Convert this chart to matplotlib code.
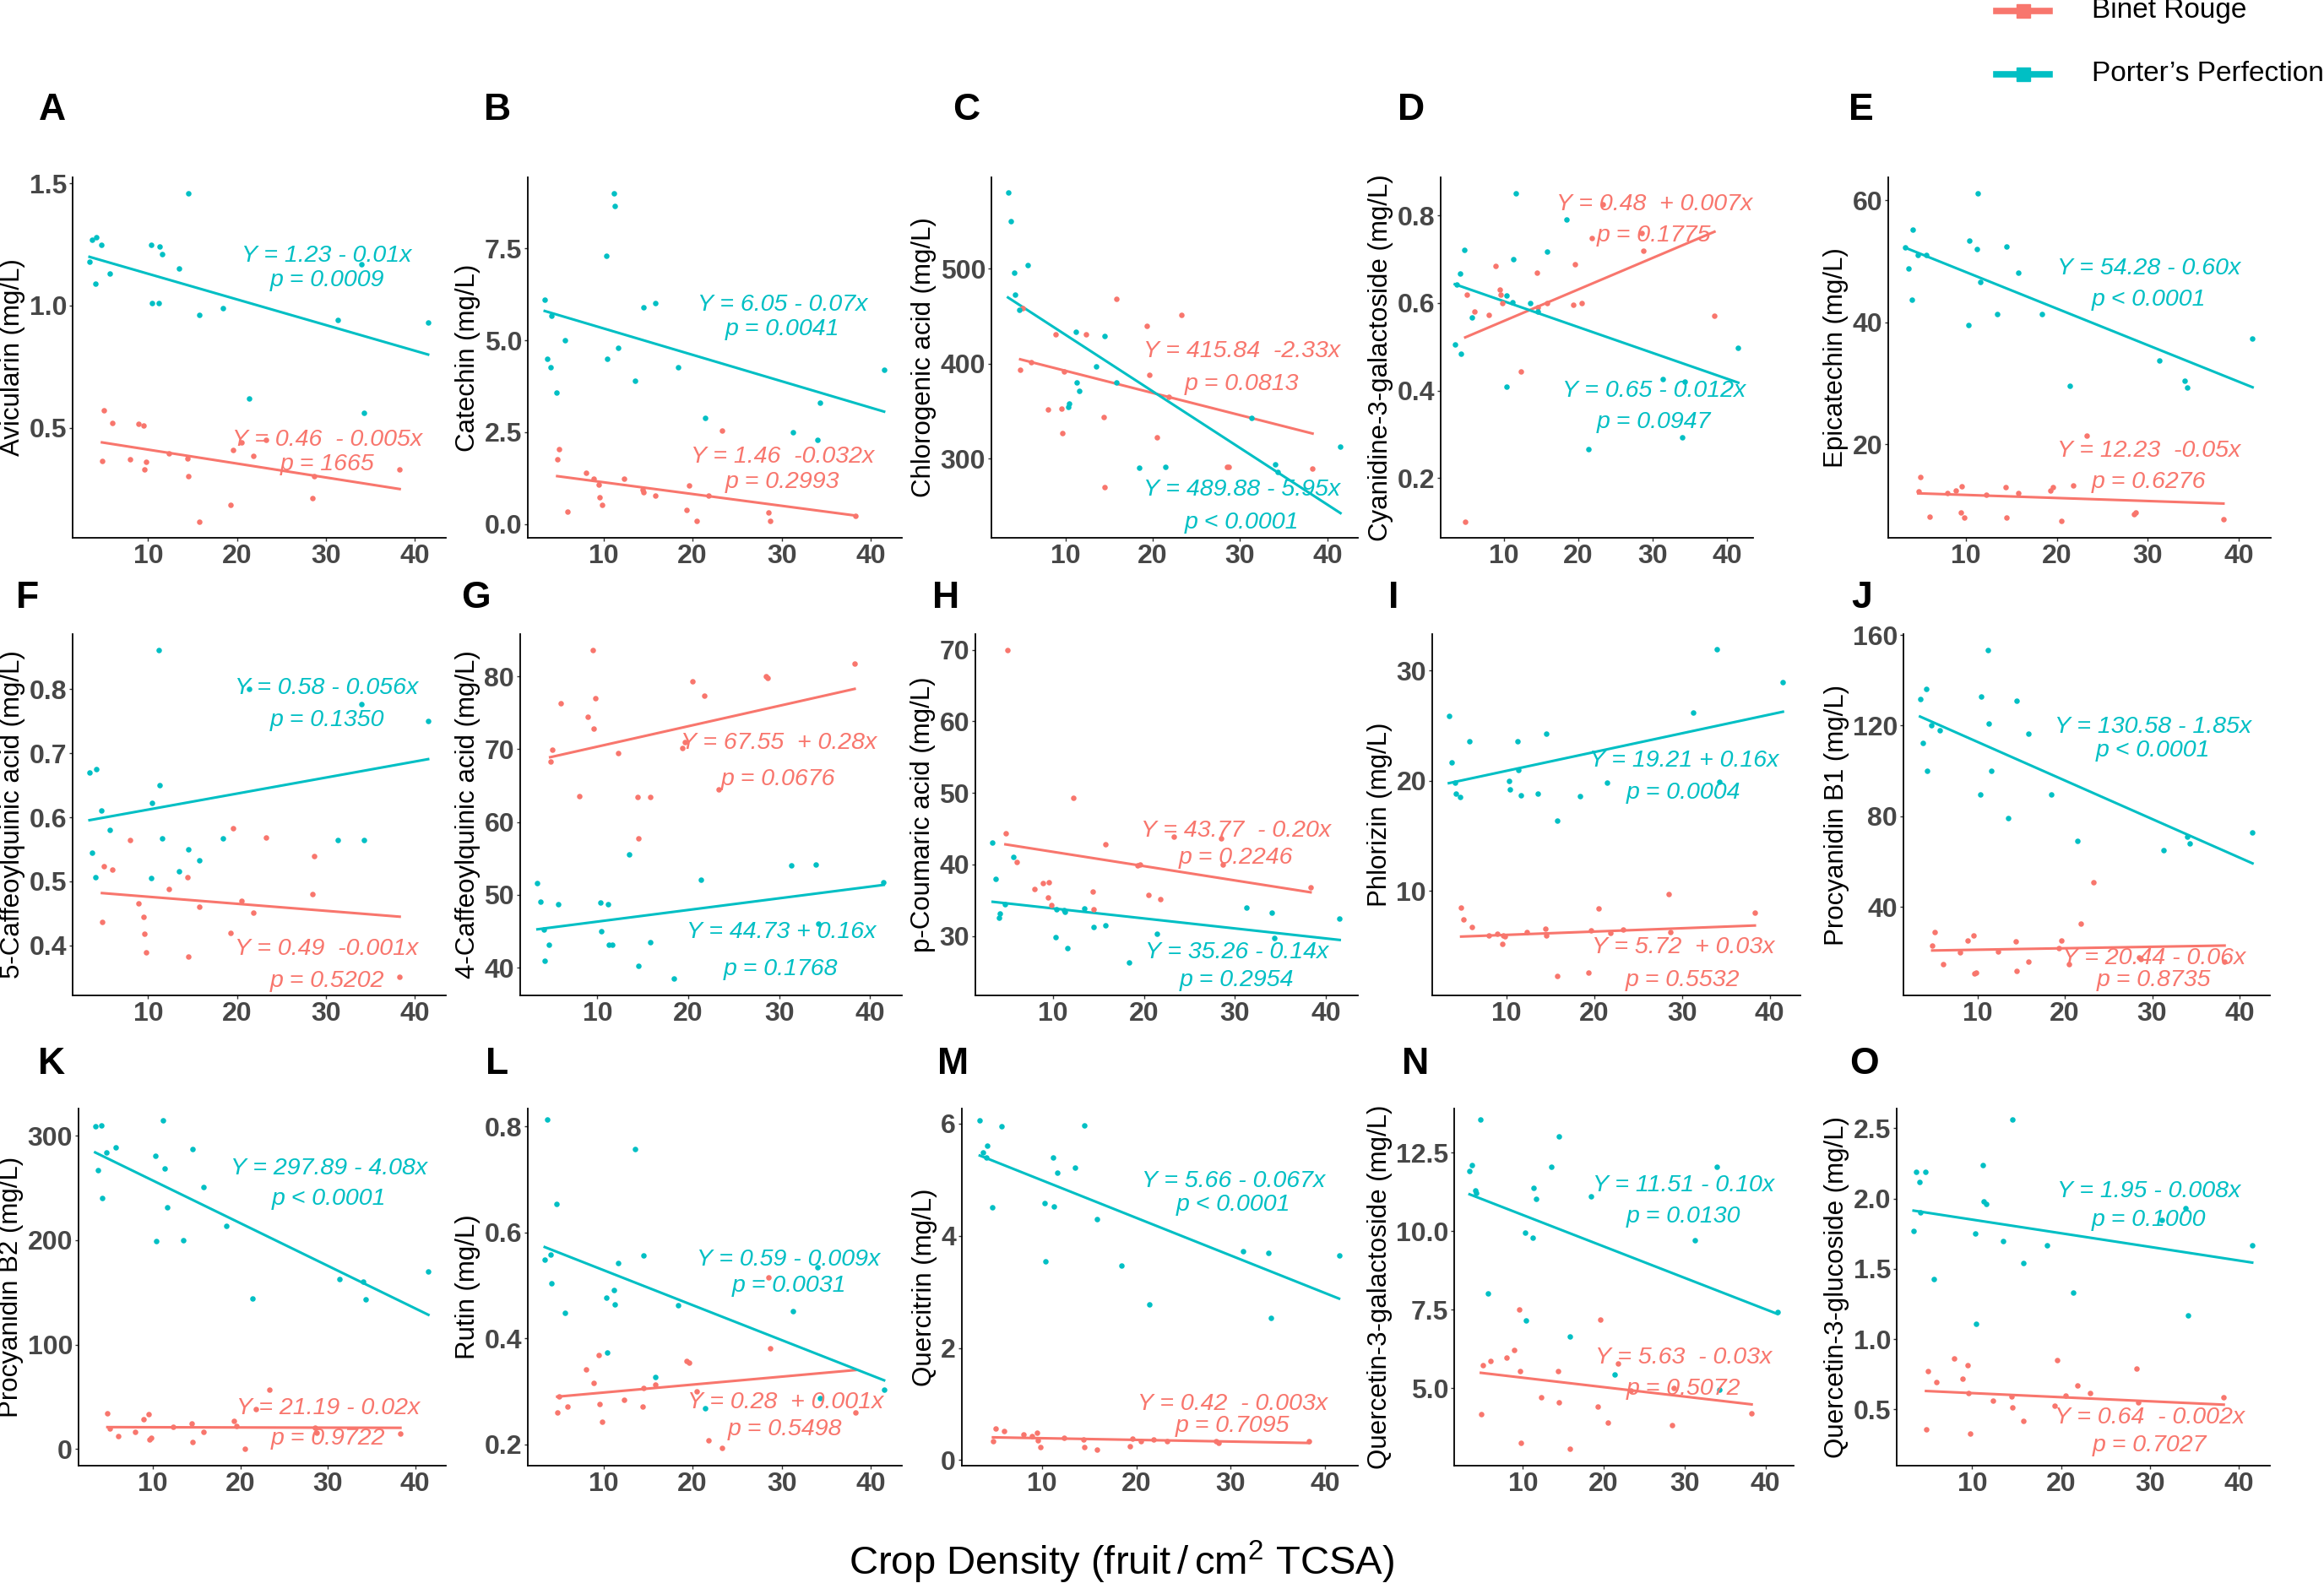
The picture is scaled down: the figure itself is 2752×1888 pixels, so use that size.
import numpy as np
import matplotlib
matplotlib.use("Agg")
import matplotlib.pyplot as plt
from matplotlib.lines import Line2D

plt.rcParams["font.family"] = ["Liberation Sans", "DejaVu Sans"]
plt.rcParams["mathtext.fontset"] = "custom"
plt.rcParams["mathtext.rm"] = "Liberation Sans"

RED = "#F8766D"
TEAL = "#00BFC4"
TICK_GREY = "#474747"

# crop density per tree
x_binet = [4.8, 5.05, 6.0, 8.0, 8.9, 9.5, 9.6, 9.8, 12.3, 14.4, 14.5, 15.8, 19.3, 19.6, 20.5, 21.8, 23.3, 28.5, 28.7, 38.3]
x_porter = [3.4, 3.7, 4.1, 4.2, 4.7, 5.7, 10.3, 10.4, 11.2, 11.3, 11.6, 13.5, 14.5, 15.8, 18.4, 21.4, 31.3, 34.0, 34.3, 41.5]

# compound concentrations (mg/L), Binet Rouge (br) / Porter's Perfection (pp)
avic_br = [0.365, 0.57, 0.52, 0.37, 0.515, 0.51, 0.33, 0.36, 0.395, 0.375, 0.30, 0.115, 0.185, 0.41, 0.44, 0.385, 0.45, 0.21, 0.30, 0.33]
avic_pp = [1.18, 1.27, 1.09, 1.28, 1.25, 1.13, 1.25, 1.01, 1.01, 1.24, 1.21, 1.15, 1.46, 0.96, 0.99, 0.62, 0.94, 1.17, 0.56, 0.93]
cat_br = [1.76, 2.05, 0.35, 1.4, 1.23, 1.07, 0.74, 0.53, 1.23, 0.94, 0.86, 0.78, 0.39, 1.05, 0.08, 0.78, 2.54, 0.33, 0.08, 0.23]
cat_pp = [6.1, 4.5, 4.26, 5.66, 3.57, 5.0, 7.3, 4.5, 9.0, 8.65, 4.8, 3.9, 5.9, 6.0, 4.26, 2.9, 2.5, 2.3, 3.3, 4.2]
chl_br = [394, 458, 402, 352, 431, 353, 327, 392, 431, 344, 270, 468, 440, 388, 323, 365, 451, 292, 292, 290]
chl_pp = [580, 550, 496, 473, 457, 504, 355, 358, 434, 380, 371, 397, 429, 380, 291, 292, 343, 294, 286, 313]
cya_br = [0.10, 0.62, 0.58, 0.573, 0.684, 0.63, 0.62, 0.60, 0.444, 0.67, 0.59, 0.60, 0.595, 0.689, 0.60, 0.749, 0.826, 0.76, 0.72, 0.571]
cya_pp = [0.505, 0.643, 0.668, 0.484, 0.721, 0.567, 0.409, 0.617, 0.601, 0.70, 0.851, 0.60, 0.58, 0.718, 0.79, 0.266, 0.426, 0.293, 0.42, 0.497]
epi_br = [12.3, 14.7, 8.1, 12.0, 12.5, 8.8, 13.2, 8.0, 11.8, 13.0, 8.0, 12.1, 12.5, 13.0, 7.4, 13.3, 21.4, 8.6, 8.8, 7.7]
epi_pp = [52.3, 48.8, 43.7, 55.2, 51.1, 51.1, 39.6, 53.4, 52.1, 61.2, 46.6, 41.4, 52.5, 48.1, 41.4, 29.6, 33.8, 30.4, 29.3, 37.4]
caf5_br = [0.436, 0.523, 0.518, 0.565, 0.465, 0.445, 0.418, 0.389, 0.488, 0.507, 0.382, 0.46, 0.42, 0.583, 0.47, 0.451, 0.568, 0.48, 0.54, 0.351]
caf5_pp = [0.67, 0.545, 0.507, 0.675, 0.611, 0.58, 0.505, 0.623, 0.861, 0.65, 0.567, 0.516, 0.55, 0.533, 0.567, 0.80, 0.565, 0.777, 0.565, 0.75]
caf4_br = [68.3, 69.9, 76.3, 63.6, 74.4, 83.6, 72.8, 77.0, 69.5, 63.4, 57.8, 63.4, 70.2, 71.0, 79.3, 77.3, 64.5, 80.0, 79.8, 81.7]
caf4_pp = [51.6, 49.1, 45.2, 41.0, 43.2, 48.7, 48.9, 45.0, 48.7, 43.1, 43.1, 55.6, 40.2, 43.5, 38.5, 52.1, 54.0, 54.2, 46.0, 51.7]
cou_br = [44.3, 70.0, 40.3, 36.6, 37.4, 35.4, 37.5, 34.3, 49.3, 36.2, 33.7, 42.8, 39.9, 40.0, 35.7, 35.1, 43.9, 43.7, 40.0, 36.8]
cou_pp = [43.0, 38.0, 32.6, 33.2, 34.5, 41.0, 29.9, 33.7, 33.6, 33.4, 28.3, 33.8, 31.3, 31.5, 26.3, 30.3, 34.0, 33.3, 29.7, 32.4]
phl_br = [8.5, 7.4, 6.7, 6.0, 6.1, 5.2, 6.0, 5.9, 6.3, 6.6, 6.0, 2.3, 2.6, 6.4, 8.4, 6.2, 6.5, 9.7, 6.3, 8.0]
phl_pp = [25.9, 21.7, 19.8, 18.8, 18.5, 23.6, 20.0, 19.2, 23.6, 21.0, 18.7, 18.8, 24.3, 16.4, 18.6, 19.8, 26.2, 31.9, 19.9, 28.9]
pb1_br = [23.0, 29.1, 14.7, 20.1, 25.2, 27.3, 10.6, 11.2, 20.5, 25.0, 11.9, 16.0, 22.0, 25.3, 14.7, 32.7, 50.9, 17.9, 17.2, 16.0]
pb1_pp = [131.8, 112.2, 136.3, 100.1, 120.2, 117.8, 89.8, 133.0, 153.3, 121.0, 100.0, 79.3, 130.9, 116.4, 89.5, 69.2, 65.0, 71.2, 68.2, 72.8]
pb2_br = [34.0, 20.0, 12.4, 16.5, 28.9, 33.3, 9.3, 10.5, 21.6, 24.5, 7.2, 16.7, 26.8, 22.0, 0.0, 38.0, 57.0, 20.3, 16.0, 14.6]
pb2_pp = [308.7, 266.8, 309.5, 240.0, 283.6, 289.0, 280.4, 199.0, 315.0, 268.3, 231.4, 199.6, 287.0, 251.0, 214.0, 144.2, 163.0, 160.0, 143.7, 170.2]
rut_br = [0.26, 0.29, 0.271, 0.342, 0.316, 0.368, 0.276, 0.243, 0.285, 0.271, 0.307, 0.313, 0.358, 0.355, 0.30, 0.208, 0.193, 0.516, 0.381, 0.261]
rut_pp = [0.548, 0.814, 0.559, 0.504, 0.654, 0.449, 0.477, 0.374, 0.491, 0.464, 0.542, 0.757, 0.557, 0.328, 0.463, 0.268, 0.451, 0.535, 0.288, 0.303]
qci_br = [0.33, 0.57, 0.51, 0.46, 0.42, 0.48, 0.35, 0.23, 0.40, 0.36, 0.23, 0.19, 0.25, 0.38, 0.34, 0.36, 0.34, 0.33, 0.31, 0.34]
qci_pp = [6.06, 5.49, 5.40, 5.60, 4.51, 5.95, 4.59, 3.55, 5.39, 4.52, 5.12, 5.21, 5.97, 4.30, 3.47, 2.78, 3.73, 3.70, 2.54, 3.65]
qga_br = [4.18, 5.73, 5.87, 5.97, 6.2, 7.5, 5.53, 3.25, 4.72, 5.53, 4.55, 3.08, 4.4, 7.19, 3.89, 5.78, 4.93, 3.83, 5.0, 4.19]
qga_pp = [11.9, 12.1, 11.3, 11.2, 13.55, 8.0, 9.95, 7.16, 9.78, 11.37, 11.03, 12.04, 13.0, 6.63, 11.1, 5.43, 9.7, 12.04, 4.95, 7.43]
qgl_br = [0.357, 0.775, 0.695, 0.86, 0.72, 0.816, 0.618, 0.33, 0.56, 0.593, 0.513, 0.417, 0.528, 0.85, 0.60, 0.668, 0.618, 0.792, 0.55, 0.588]
qgl_pp = [1.77, 2.19, 2.12, 1.90, 2.19, 1.43, 1.75, 1.11, 2.24, 1.98, 1.96, 1.70, 2.56, 1.54, 1.67, 1.33, 1.85, 1.93, 1.17, 1.67]

# fitted lines as drawn (intercept, slope)
fit_br = [(0.467, -0.0057), (1.46, -0.032), (415.84, -2.33), (0.487, 0.0072), (12.23, -0.05),
          (0.487, -0.0011), (67.55, 0.28), (43.77, -0.20), (5.72, 0.03), (20.5, 0.065),
          (21.19, -0.02), (0.283, 0.0015), (0.42, -0.003), (5.63, -0.03), (0.645, -0.0029)]
fit_pp = [(1.235, -0.0105), (6.04, -0.0718), (489.88, -5.95), (0.663, -0.0059), (54.28, -0.60),
          (0.587, 0.0025), (44.73, 0.16), (35.26, -0.14), (19.2, 0.17), (129.8, -1.70),
          (297.89, -4.08), (0.595, -0.0066), (5.66, -0.067), (11.51, -0.10), (1.947, -0.0097)]

letters = list("ABCDEFGHIJKLMNO")
ylabels = ["Avicularin (mg/L)", "Catechin (mg/L)", "Chlorogenic acid (mg/L)",
           "Cyanidine-3-galactoside (mg/L)", "Epicatechin (mg/L)",
           "5-Caffeoylquinic acid (mg/L)", "4-Caffeoylquinic acid (mg/L)",
           "p-Coumaric acid (mg/L)", "Phlorizin (mg/L)", "Procyanidin B1 (mg/L)",
           "Procyanidin B2 (mg/L)", "Rutin (mg/L)", "Quercitrin (mg/L)",
           "Quercetin-3-galactoside (mg/L)", "Quercetin-3-glucoside (mg/L)"]
ytick_labels = [["0.5", "1.0", "1.5"], ["0.0", "2.5", "5.0", "7.5"], ["300", "400", "500"],
                ["0.2", "0.4", "0.6", "0.8"], ["20", "40", "60"],
                ["0.4", "0.5", "0.6", "0.7", "0.8"], ["40", "50", "60", "70", "80"],
                ["30", "40", "50", "60", "70"], ["10", "20", "30"], ["40", "80", "120", "160"],
                ["0", "100", "200", "300"], ["0.2", "0.4", "0.6", "0.8"], ["0", "2", "4", "6"],
                ["5.0", "7.5", "10.0", "12.5"], ["0.5", "1.0", "1.5", "2.0", "2.5"]]
eq_br = [("Y = 0.46  - 0.005x", "p = 1665"), ("Y = 1.46  -0.032x", "p = 0.2993"),
         ("Y = 415.84  -2.33x", "p = 0.0813"), ("Y = 0.48  + 0.007x", "p = 0.1775"),
         ("Y = 12.23  -0.05x", "p = 0.6276"), ("Y = 0.49  -0.001x", "p = 0.5202"),
         ("Y = 67.55  + 0.28x", "p = 0.0676"), ("Y = 43.77  - 0.20x", "p = 0.2246"),
         ("Y = 5.72  + 0.03x", "p = 0.5532"), ("Y = 20.44 - 0.06x", "p = 0.8735"),
         ("Y = 21.19 - 0.02x", "p = 0.9722"), ("Y = 0.28  + 0.001x", "p = 0.5498"),
         ("Y = 0.42  - 0.003x", "p = 0.7095"), ("Y = 5.63  - 0.03x", "p = 0.5072"),
         ("Y = 0.64  - 0.002x", "p = 0.7027")]
eq_pp = [("Y = 1.23 - 0.01x", "p = 0.0009"), ("Y = 6.05 - 0.07x", "p = 0.0041"),
         ("Y = 489.88 - 5.95x", "p < 0.0001"), ("Y = 0.65 - 0.012x", "p = 0.0947"),
         ("Y = 54.28 - 0.60x", "p < 0.0001"), ("Y = 0.58 - 0.056x", "p = 0.1350"),
         ("Y = 44.73 + 0.16x", "p = 0.1768"), ("Y = 35.26 - 0.14x", "p = 0.2954"),
         ("Y = 19.21 + 0.16x", "p = 0.0004"), ("Y = 130.58 - 1.85x", "p < 0.0001"),
         ("Y = 297.89 - 4.08x", "p < 0.0001"), ("Y = 0.59 - 0.009x", "p = 0.0031"),
         ("Y = 5.66 - 0.067x", "p < 0.0001"), ("Y = 11.51 - 0.10x", "p = 0.0130"),
         ("Y = 1.95 - 0.008x", "p = 0.1000")]

values_br = [avic_br, cat_br, chl_br, cya_br, epi_br, caf5_br, caf4_br, cou_br,
             phl_br, pb1_br, pb2_br, rut_br, qci_br, qga_br, qgl_br]
values_pp = [avic_pp, cat_pp, chl_pp, cya_pp, epi_pp, caf5_pp, caf4_pp, cou_pp,
             phl_pp, pb1_pp, pb2_pp, rut_pp, qci_pp, qga_pp, qgl_pp]

# ---- layout (pixels of the 2752x1888 canvas) ----
W, H = 2752, 1888
rows_tb = [(210, 637), (751, 1179), (1313, 1736)]
cols_lr = [[(86, 528), (625, 1068), (1174, 1608), (1706, 2076), (2236, 2689)],
           [(86, 528), (616, 1068), (1155, 1608), (1696, 2132), (2254, 2688)],
           [(93, 528), (625, 1068), (1139, 1608), (1722, 2124), (2246, 2688)]]
letter_xy = [(62, 130), (589, 130), (1144, 130), (1671, 130), (2204, 130),
             (33, 708), (563, 708), (1120, 708), (1650, 708), (2205, 708),
             (61, 1261), (589, 1261), (1129, 1261), (1676, 1261), (2207, 1261)]
ylims = [(0.049, 1.525), (-0.37, 9.43), (217, 596), (0.064, 0.887), (4.7, 63.8),
         (0.322, 0.886), (36.2, 85.8), (21.7, 72.2), (0.53, 33.3), (1.0, 160.4),
         (-15.8, 326), (0.16, 0.834), (-0.10, 6.27), (2.53, 13.9), (0.10, 2.64)]
# annotation anchors in data units: (x, y of equation, y of p)
pos_br = [(30.2, 0.451, 0.349), (30.1, 1.83, 1.15), (30.2, 413.4, 378.9), (30.2, 0.826, 0.754),
          (30.1, 19.0, 13.9), (30.1, 0.395, 0.345), (29.9, 70.8, 65.9), (30.1, 44.7, 40.9),
          (30.1, 4.9, 1.9), (30.2, 17.5, 7.6), (30.0, 39, 10), (30.4, 0.279, 0.228),
          (30.2, 1.0, 0.61), (29.9, 5.97, 4.98), (30.0, 0.443, 0.245)]
pos_pp = [(30.1, 1.204, 1.105), (30.1, 5.96, 5.29), (30.2, 268, 232.7), (30.2, 0.399, 0.328),
          (30.1, 48.9, 43.7), (30.1, 0.802, 0.752), (30.2, 44.9, 39.8), (30.2, 27.7, 23.8),
          (30.2, 21.8, 18.9), (30.1, 119.3, 109), (30.1, 268.3, 239.4), (30.8, 0.548, 0.499),
          (30.3, 4.98, 4.55), (29.9, 11.46, 10.45), (29.9, 2.05, 1.85)]


def box(l, r, t, b):
    return [l / W, 1 - b / H, (r - l) / W, (b - t) / H]


def draw_series(ax, xs, ys, fit, color):
    ax.scatter(xs, ys, s=22, color=color, linewidths=0, zorder=3)
    a, b = fit
    xx = np.array([min(xs), max(xs)])
    ax.plot(xx, a + b * xx, color=color, lw=2.2, zorder=2)


fig = plt.figure(figsize=(W / 100, H / 100), dpi=100)

for i in range(15):
    r, c = divmod(i, 5)
    t, b = rows_tb[r]
    l, rr = cols_lr[r][c]
    ax = fig.add_axes(box(l, rr, t, b))

    draw_series(ax, x_binet, values_br[i], fit_br[i], RED)
    draw_series(ax, x_porter, values_pp[i], fit_pp[i], TEAL)

    # equations
    for (eq, pv), (tx, ty1, ty2), col in ((eq_br[i], pos_br[i], RED), (eq_pp[i], pos_pp[i], TEAL)):
        ax.text(tx, ty1, eq, color=col, fontsize=20.5, style="italic", ha="center", va="center", zorder=4)
        ax.text(tx, ty2, pv, color=col, fontsize=20.5, style="italic", ha="center", va="center", zorder=4)

    ax.set_xlim(1.5, 43.5)
    ax.set_ylim(*ylims[i])
    ax.set_xticks([10, 20, 30, 40])
    ax.set_yticks([float(v) for v in ytick_labels[i]])
    ax.set_yticklabels(ytick_labels[i])
    ax.tick_params(labelsize=23, colors="#333333", labelcolor=TICK_GREY, length=3, width=1, pad=2)
    for lab in ax.get_xticklabels() + ax.get_yticklabels():
        lab.set_fontweight("bold")
    for side in ("top", "right"):
        ax.spines[side].set_visible(False)
    for side in ("left", "bottom"):
        ax.spines[side].set_linewidth(1.3)
    ax.set_ylabel(ylabels[i], fontsize=22.5, labelpad=3)

    lx, ly = letter_xy[i]
    fig.text(lx / W, 1 - ly / H, letters[i], fontsize=32, fontweight="bold", ha="center", va="center")

# common x label
fig.text(1328 / W, 1 - 1850 / H, r"Crop Density (fruit$\,/\,$cm$^{2}$ TCSA)",
         fontsize=34, ha="center", va="center")

# legend in the top right corner
for ly, col, name in ((13, RED, "Binet Rouge"), (88, TEAL, "Porter\u2019s Perfection")):
    y = 1 - ly / H
    fig.add_artist(Line2D([2364 / W, 2427 / W], [y, y], color=col, lw=5.5,
                          transform=fig.transFigure))
    fig.add_artist(Line2D([2395.5 / W], [y], color=col, marker="s", markersize=11,
                          transform=fig.transFigure))
    fig.text(2477 / W, y, name, fontsize=24, ha="left", va="center")

fig.savefig("out.png", dpi=100)
